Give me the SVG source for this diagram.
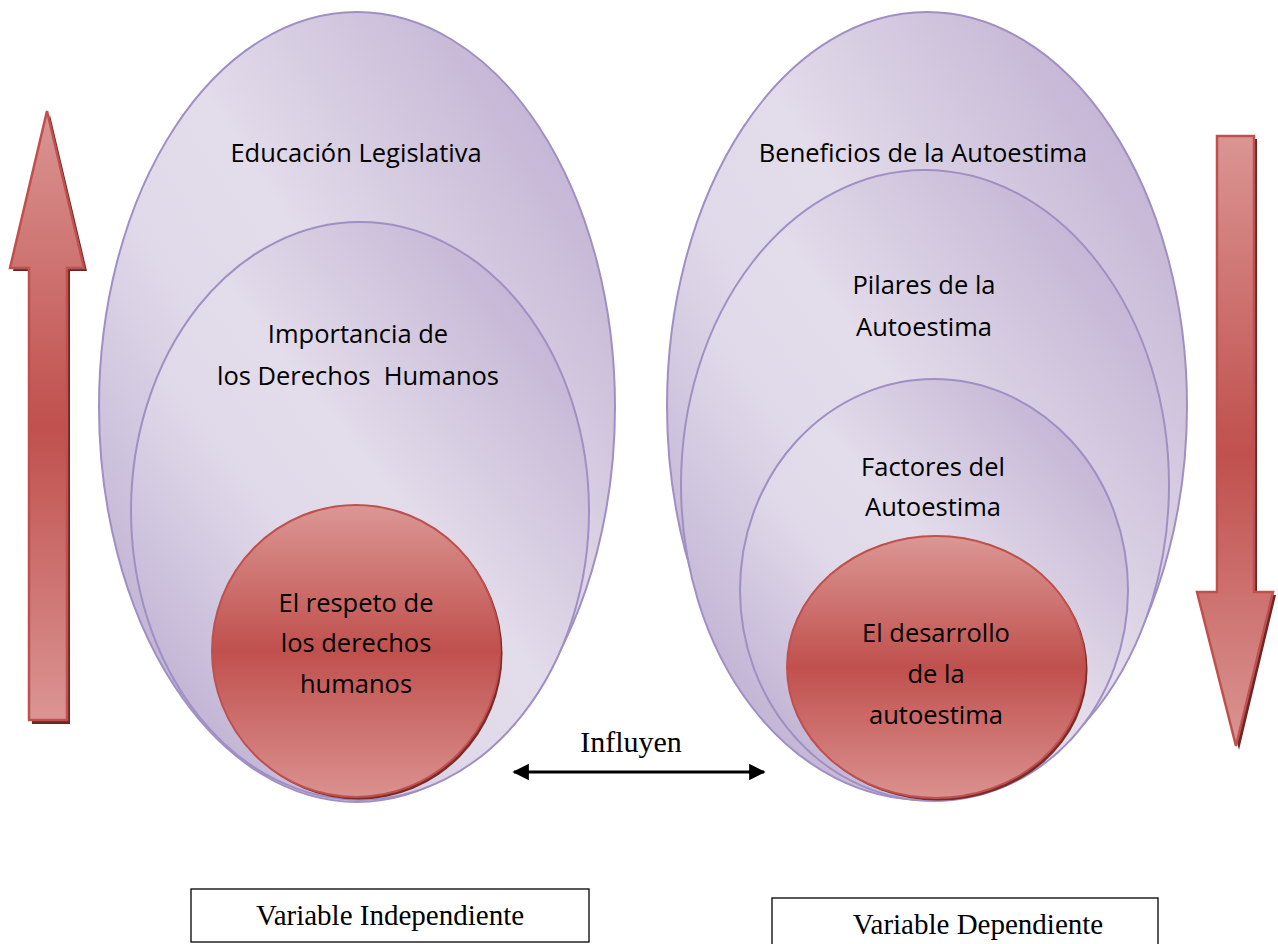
<svg xmlns="http://www.w3.org/2000/svg" width="1278" height="944" viewBox="0 0 1278 944">
<style>
.lav{fill:url(#lavGrad);stroke:#a08fc3;stroke-width:2}
.red{fill:url(#redGrad);stroke:#c0504d;stroke-width:2}
.shadow{fill:#7b2a28}
.arrowShape{fill:url(#arrowGrad);stroke:#c0504d;stroke-width:2.5;stroke-linejoin:miter}
.arrowShadow{fill:#6e2624}
.lbl{font-family:"Open Sans",Lato,"Liberation Sans",sans-serif;font-size:25.5px;fill:#000;text-anchor:middle}
.serif{font-family:"Liberation Serif","Times New Roman",serif;fill:#000;text-anchor:middle}
.box{fill:#fff;stroke:#000;stroke-width:1.3}
</style>
<defs>
<linearGradient id="lavGrad" x1="1" y1="0" x2="0" y2="1">
<stop offset="0" stop-color="#b7a5cc"/>
<stop offset="0.45" stop-color="#e3dcea"/>
<stop offset="0.6" stop-color="#e0d9e9"/>
<stop offset="1" stop-color="#b3a2cb"/>
</linearGradient>
<linearGradient id="redGrad" x1="0" y1="0" x2="0" y2="1">
<stop offset="0" stop-color="#db9794"/>
<stop offset="0.5" stop-color="#c0504d"/>
<stop offset="1" stop-color="#da918f"/>
</linearGradient>
<linearGradient id="arrowGrad" x1="0" y1="0" x2="0" y2="1">
<stop offset="0" stop-color="#da9593"/>
<stop offset="0.52" stop-color="#c0504d"/>
<stop offset="1" stop-color="#da9593"/>
</linearGradient>
<marker id="ah" viewBox="0 0 10 10" refX="9" refY="5" markerWidth="5.5" markerHeight="5.5" orient="auto-start-reverse" markerUnits="strokeWidth">
<path d="M0,0 L10,5 L0,10 Z" fill="#000"/>
</marker>
</defs>

<g id="left-arrow">
<polygon class="arrowShadow" points="50,115 87,271 70,271 70,724 32,724 32,271 13,271"/>
<polygon class="arrowShape" points="47,111 84,268 67,268 67,720 29,720 29,268 10,268"/>
</g>

<g id="right-arrow">
<polygon class="arrowShadow" points="1220,139 1257,139 1257,595 1276,595 1239,750 1200,595 1220,595"/>
<polygon class="arrowShape" points="1217,136 1254,136 1254,592 1273,592 1236,746 1197,592 1217,592"/>
</g>

<g id="educacion-legislativa">
<ellipse class="lav" cx="357" cy="407" rx="258" ry="395"/>
<text class="lbl" x="356" y="162">Educación Legislativa</text>
</g>

<g id="importancia-derechos">
<ellipse class="lav" cx="360" cy="511" rx="229" ry="289"/>
<text class="lbl" x="358" y="343">Importancia de</text>
<text class="lbl" x="358" y="385" xml:space="preserve">los Derechos  Humanos</text>
</g>

<g id="respeto-derechos">
<ellipse class="shadow" cx="358.5" cy="653.5" rx="144" ry="146"/>
<ellipse class="red" cx="356" cy="651" rx="144" ry="146"/>
<text class="lbl" x="356" y="612">El respeto de</text>
<text class="lbl" x="356" y="652">los derechos</text>
<text class="lbl" x="356" y="693">humanos</text>
</g>

<g id="beneficios-autoestima">
<ellipse class="lav" cx="927" cy="406" rx="260" ry="394"/>
<text class="lbl" x="923" y="162">Beneficios de la Autoestima</text>
</g>

<g id="pilares-autoestima">
<ellipse class="lav" cx="925" cy="485" rx="244" ry="315"/>
<text class="lbl" x="924" y="294">Pilares de la</text>
<text class="lbl" x="924" y="336">Autoestima</text>
</g>

<g id="factores-autoestima">
<ellipse class="lav" cx="934" cy="590" rx="194" ry="211"/>
<text class="lbl" x="933" y="476">Factores del</text>
<text class="lbl" x="933" y="516">Autoestima</text>
</g>

<g id="desarrollo-autoestima">
<ellipse class="shadow" cx="938.5" cy="669.5" rx="149" ry="131"/>
<ellipse class="red" cx="936" cy="667" rx="149" ry="131"/>
<text class="lbl" x="936" y="642">El desarrollo</text>
<text class="lbl" x="936" y="683">de la</text>
<text class="lbl" x="936" y="724">autoestima</text>
</g>

<g id="connectors">
<line x1="514" y1="772" x2="764" y2="772" stroke="#000" stroke-width="3" marker-start="url(#ah)" marker-end="url(#ah)"/>
<text class="serif" x="631" y="752" font-size="30">Influyen</text>
</g>

<g id="variable-independiente">
<rect class="box" x="191" y="889" width="398" height="53"/>
<text class="serif" x="390" y="925" font-size="29">Variable Independiente</text>
</g>

<g id="variable-dependiente">
<rect class="box" x="772" y="898" width="386" height="52"/>
<text class="serif" x="978" y="934" font-size="29">Variable Dependiente</text>
</g>
</svg>
